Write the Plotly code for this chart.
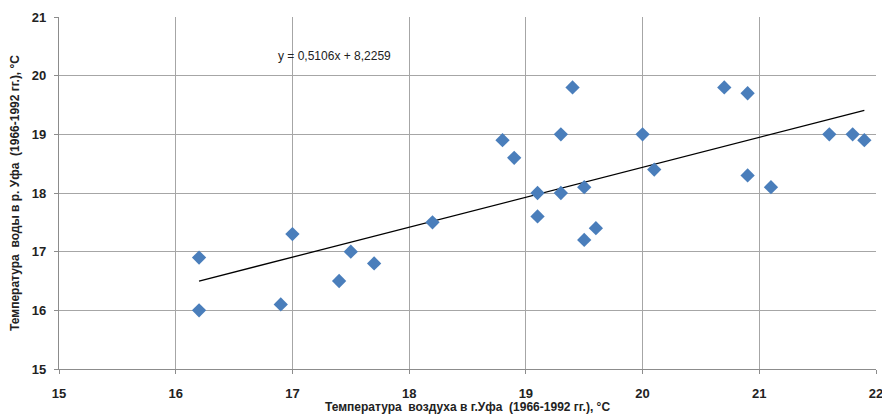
import plotly.graph_objects as go

air_temp = [16.2, 16.2, 16.9, 17.0, 17.4, 17.5, 17.7, 18.2, 18.8, 18.9, 19.1, 19.1, 19.3, 19.3,
            19.4, 19.5, 19.5, 19.6, 20.0, 20.1, 20.7, 20.9, 20.9, 21.1, 21.6, 21.8, 21.9]
water_temp = [16.9, 16.0, 16.1, 17.3, 16.5, 17.0, 16.8, 17.5, 18.9, 18.6, 18.0, 17.6, 19.0, 18.0,
              19.8, 18.1, 17.2, 17.4, 19.0, 18.4, 19.8, 19.7, 18.3, 18.1, 19.0, 19.0, 18.9]
slope, intercept = 0.5106, 8.2259
trend_x = [min(air_temp), max(air_temp)]
trend_y = [slope * v + intercept for v in trend_x]
eq_label = "y = 0,5106x + 8,2259"
x_ticks = [15, 16, 17, 18, 19, 20, 21, 22]
y_ticks = [15, 16, 17, 18, 19, 20, 21]

fig = go.Figure()
fig.add_trace(go.Scatter(x=trend_x, y=trend_y, mode="lines",
                         line=dict(color="black", width=1.3), hoverinfo="skip"))
fig.add_trace(go.Scatter(x=air_temp, y=water_temp, mode="markers", cliponaxis=False,
                         marker=dict(symbol="diamond", size=11, color="#4A7EBB",
                                     line=dict(width=0))))
fig.add_annotation(x=16.86, y=20.335, text=eq_label, showarrow=False, xanchor="left",
                   font=dict(family="Liberation Sans", size=12, color="#222"))

axis_common = dict(showgrid=True, gridcolor="#a6a6a6", gridwidth=1, showline=True,
                   linecolor="#8c8c8c", linewidth=1.3, ticks="outside", ticklen=4,
                   tickcolor="#8c8c8c", zeroline=False, automargin=False,
                   ticklabeloverflow="allow",
                   tickfont=dict(family="Liberation Sans", size=13, color="#222",
                                 weight="bold"))
fig.update_xaxes(range=[15, 22], tickvals=x_ticks, ticklabelstandoff=8, **axis_common,
                 title=dict(text="<b>Температура  воздуха в г.Уфа  (1966-1992 гг.), °С</b>",
                            font=dict(family="Liberation Sans", size=12, color="#222"),
                            standoff=4))
fig.update_yaxes(range=[15, 21], tickvals=y_ticks, ticklabelstandoff=5, **axis_common,
                 title=dict(text="<b>Температура  воды в р. Уфа  (1966-1992 гг.), °С</b>",
                            font=dict(family="Liberation Sans", size=12, color="#222"),
                            standoff=9))
fig.update_layout(width=882, height=414, showlegend=False, plot_bgcolor="white",
                  paper_bgcolor="white", margin=dict(l=59, r=6, t=17, b=45))
fig.write_html("out.html", config={"displayModeBar": False},
               post_script="document.body.style.margin='0';")
